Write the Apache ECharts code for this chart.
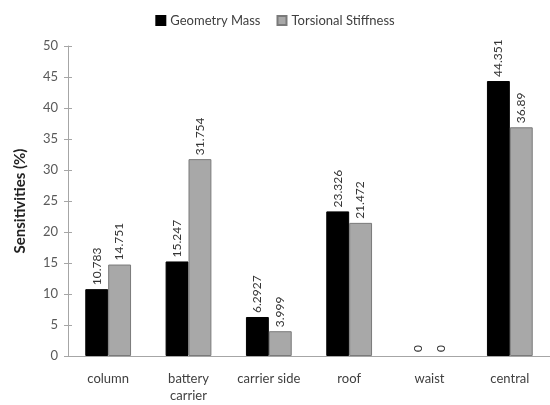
<!DOCTYPE html>
<html>
<head>
<meta charset="utf-8">
<script src="https://cdn.jsdelivr.net/npm/echarts@6/dist/echarts.min.js"></script>
<style>html,body{margin:0;padding:0;background:#fff}#c{width:550px;height:405px}</style>
</head>
<body>
<div id="c"></div>
<script>
const categories = ['column', 'battery\ncarrier', 'carrier side', 'roof', 'waist', 'central'];
const geometryMass = [10.783, 15.247, 6.2927, 23.326, 0, 44.351];
const torsionalStiffness = [14.751, 31.754, 3.999, 21.472, 0, 36.89];
const yTicks = [0, 5, 10, 15, 20, 25, 30, 35, 40, 45, 50];

const font = 'Lato, "Open Sans", sans-serif';
const chart = echarts.init(document.getElementById('c'), null, {renderer: 'canvas'});
const labelCfg = {
  show: true, position: 'top', rotate: 90, align: 'left', verticalAlign: 'middle',
  distance: 4, fontSize: 12, color: '#333', fontFamily: font,
  formatter: p => String(p.value)
};
const withZeroNoBorder = arr => arr.map(v => v === 0 ? {value: v, itemStyle: {borderWidth: 0, color: 'rgba(0,0,0,0)'}} : v);
chart.setOption({
  animation: false,
  textStyle: {fontFamily: font},
  legend: {
    top: 9, left: 'center', itemWidth: 9, itemHeight: 9, itemGap: 16, icon: 'rect',
    textStyle: {fontSize: 13, color: '#404040', fontFamily: font},
    data: ['Geometry Mass', 'Torsional Stiffness']
  },
  grid: {left: 68, right: -4, top: 46, bottom: 49},
  xAxis: {
    type: 'category', data: categories,
    axisLine: {lineStyle: {color: '#a6a6a6', width: 1}},
    axisTick: {show: false},
    axisLabel: {fontSize: 13, color: '#404040', margin: 14, lineHeight: 17, fontFamily: font, interval: 0}
  },
  yAxis: [{
    type: 'value', min: yTicks[0], max: yTicks[yTicks.length - 1], interval: 5,
    name: 'Sensitivities (%)', nameLocation: 'middle', nameGap: 40,
    nameTextStyle: {fontSize: 15, fontWeight: 'bold', color: '#222', fontFamily: font},
    axisLine: {show: true, lineStyle: {color: '#a6a6a6'}},
    axisTick: {show: true, length: 4, lineStyle: {color: '#a6a6a6'}},
    axisLabel: {fontSize: 13, color: '#595959', margin: 10, fontFamily: font},
    splitLine: {show: false}
  }, {
    type: 'value', position: 'left', min: yTicks[0], max: yTicks[yTicks.length - 1], interval: 5,
    axisLine: {show: false},
    axisTick: {show: true, inside: true, length: 4, lineStyle: {color: '#a6a6a6'}},
    axisLabel: {show: false}, splitLine: {show: false}
  }],
  series: [{
    name: 'Geometry Mass', type: 'bar', data: withZeroNoBorder(geometryMass),
    barGap: '0%', barCategoryGap: '43%',
    itemStyle: {color: '#000', borderColor: '#000', borderWidth: 1},
    label: labelCfg
  }, {
    name: 'Torsional Stiffness', type: 'bar', data: withZeroNoBorder(torsionalStiffness),
    itemStyle: {color: '#a8a8a8', borderColor: '#7a7a7a', borderWidth: 1},
    label: labelCfg
  }]
});
</script>
</body>
</html>
